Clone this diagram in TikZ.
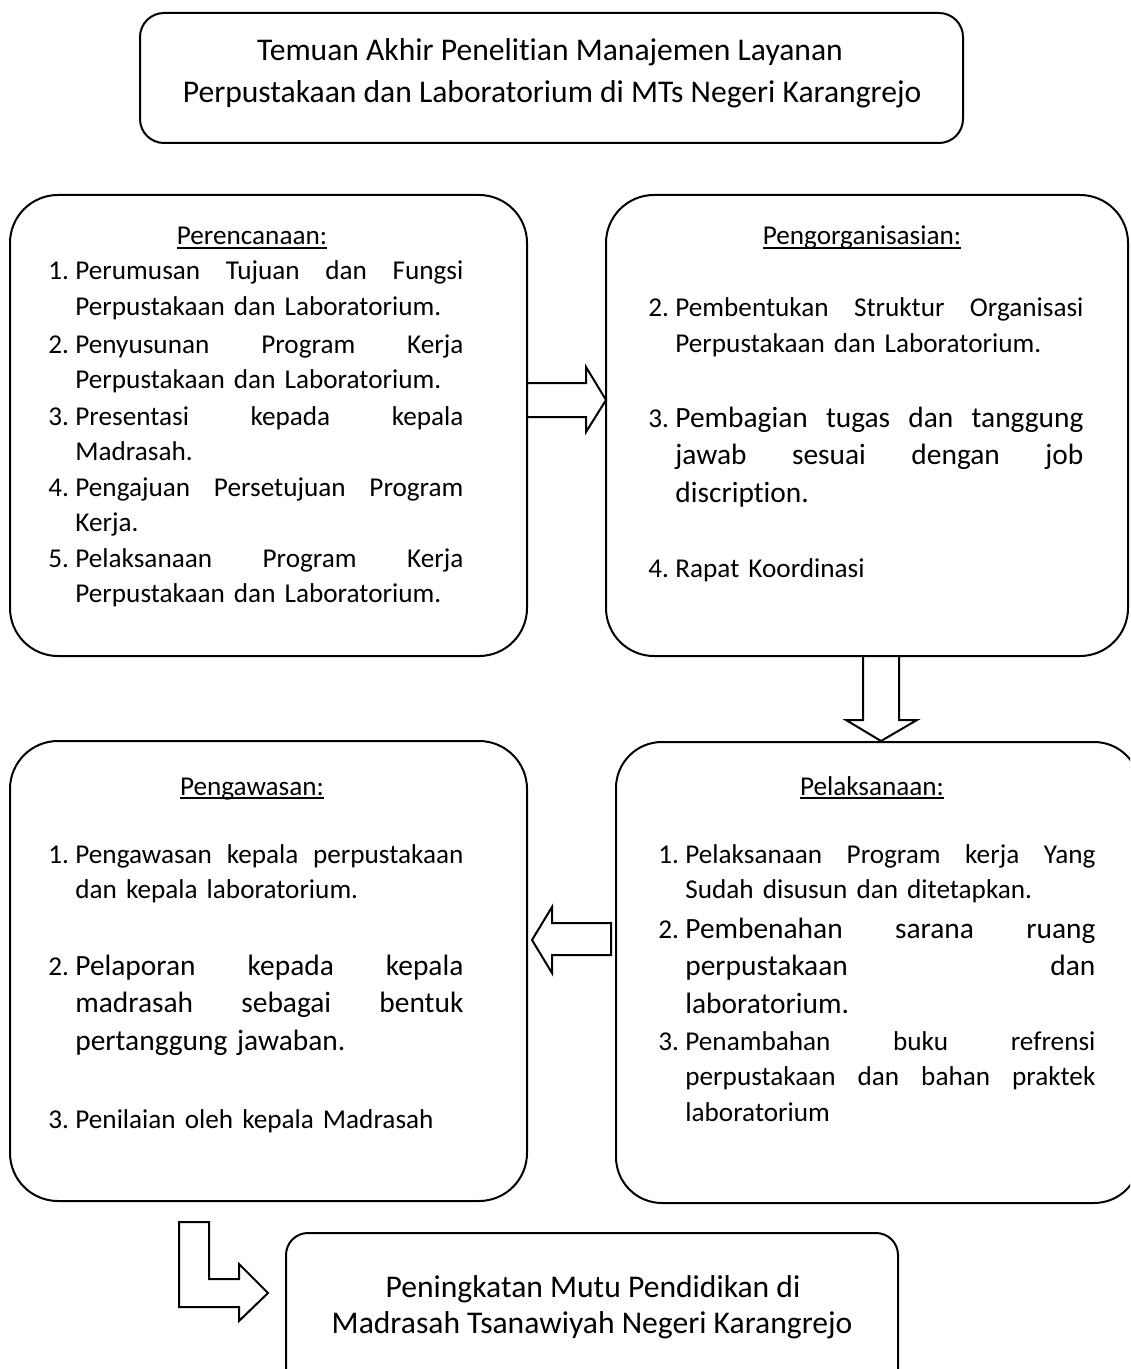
\documentclass[tikz,border=0pt]{standalone}
\usepackage{fontspec}
\setmainfont{Carlito}[Ligatures=NoCommon]
\newcommand\fsn{\fontsize{13.6}{17.9}\selectfont}
\newcommand\fsl{\fontsize{14.7}{18.8}\selectfont}
\newcommand\fst{\fontsize{15.8}{20}\selectfont}
\newcommand\jl[1]{\leavevmode\hbox to \linewidth{\spaceskip=0.226em plus 1fil\relax #1}}
\newcommand\itm[3]{\makebox[13.5pt][l]{#2}\parbox[t]{\dimexpr#1-13.5pt\relax}{#3}}
\newcommand\hdul[1]{\sbox0{#1}\rlap{\rule[-2pt]{\wd0}{0.8pt}}\usebox0}
\begin{document}
\begin{tikzpicture}[x=0.5pt,y=-0.5pt,
  box/.style={draw, line width=1pt, inner sep=0pt},
  blockarrow/.style={draw, line width=1pt, line join=miter},
  entry/.style={anchor=base west, inner sep=0pt, font=\fsn, text width=#1},
  head/.style={anchor=base, inner sep=0pt, font=\fsn},
  ttl/.style={anchor=base, inner sep=0pt, font=\fst}]
\useasboundingbox (0,0) rectangle (1130,1369);
\clip (0,0) rectangle (1130,1369);
\fill[white] (0,0) rectangle (1130,1369);

% boxes
\node[box, rounded corners=12pt, minimum width=411.5pt, minimum height=65pt] (title) at (551.5,78) {};
\node[box, rounded corners=24pt, minimum width=258.5pt, minimum height=230.5pt] (plan) at (268.5,425.5) {};
\node[box, rounded corners=24pt, minimum width=261pt, minimum height=230.5pt] (org) at (867,425.5) {};
\node[box, rounded corners=24pt, minimum width=258.5pt, minimum height=230pt] (sup) at (268.5,971) {};
\node[box, rounded corners=23pt, minimum width=262pt, minimum height=230.5pt] (act) at (878,972.5) {};
\node[box, rounded corners=11pt, minimum width=306pt, minimum height=83.5pt] (out) at (592,1316.5) {};

% block arrows
\draw[blockarrow] (527,383) -- (586,383) -- (586,367) -- (606,400) -- (586,432) -- (586,417) -- (527,417);
\draw[blockarrow] (863,656) -- (863,720) -- (846,720) -- (881,741) -- (917,720) -- (899,720) -- (899,656);
\draw[blockarrow] (611,923) -- (552,923) -- (552,907) -- (532,940) -- (552,973) -- (552,955) -- (611,955) -- cycle;
\draw[blockarrow] (179,1222) -- (209,1222) -- (209,1279) -- (239,1279) -- (239,1264) -- (268,1293) -- (239,1321) -- (239,1307) -- (179,1307) -- cycle;

% title
\node[ttl] (t1) at (550,61) {Temuan Akhir Penelitian Manajemen Layanan};
\node[ttl] (t2) at (552,103) {Perpustakaan dan Laboratorium di MTs Negeri Karangrejo};

% Perencanaan
\node[head] (ph) at (252,245) {\hdul{Perencanaan:}};
\node[entry=207.5pt] (p1) at (48,280) {\itm{207.5pt}{1.}{\jl{Perumusan Tujuan dan Fungsi}\\Perpustakaan dan Laboratorium.}};
\node[entry=207.5pt] (p2) at (48,353) {\itm{207.5pt}{2.}{\jl{Penyusunan Program Kerja}\\Perpustakaan dan Laboratorium.}};
\node[entry=207.5pt] (p3) at (48,425) {\itm{207.5pt}{3.}{\jl{Presentasi kepada kepala}\\Madrasah.}};
\node[entry=207.5pt] (p4) at (48,496) {\itm{207.5pt}{4.}{\jl{Pengajuan Persetujuan Program}\\Kerja.}};
\node[entry=207.5pt] (p5) at (48,567) {\itm{207.5pt}{5.}{\jl{Pelaksanaan Program Kerja}\\Perpustakaan dan Laboratorium.}};

% Pengorganisasian
\node[head] (oh) at (862,245) {\hdul{Pengorganisasian:}};
\node[entry=217.5pt] (o2i) at (648,317) {\itm{217.5pt}{2.}{\jl{Pembentukan Struktur Organisasi}\\Perpustakaan dan Laboratorium.}};
\node[entry=217.5pt, font=\fsl] (o3i) at (648,427) {\itm{217.5pt}{{\fsn 3.}}{\jl{Pembagian tugas dan tanggung}\\\jl{jawab sesuai dengan job}\\discription.}};
\node[entry=217.5pt] (o4i) at (648,577) {\itm{217.5pt}{4.}{Rapat Koordinasi}};

% Pengawasan
\node[head] (sh) at (252,795) {\hdul{Pengawasan:}};
\node[entry=207.5pt] (s1) at (48,863) {\itm{207.5pt}{1.}{\jl{Pengawasan kepala perpustakaan}\\dan kepala laboratorium.}};
\node[entry=207.5pt, font=\fsl] (s2) at (48,975) {\itm{207.5pt}{{\fsn 2.}}{\jl{Pelaporan kepada kepala}\\\jl{madrasah sebagai bentuk}\\pertanggung jawaban.}};
\node[entry=207.5pt] (s3) at (48,1128) {\itm{207.5pt}{3.}{Penilaian oleh kepala Madrasah}};

% Pelaksanaan
\node[head] (ah) at (872,795) {\hdul{Pelaksanaan:}};
\node[entry=218.5pt] (a1) at (658,863) {\itm{218.5pt}{1.}{\jl{Pelaksanaan Program kerja Yang}\\Sudah disusun dan ditetapkan.}};
\node[entry=218.5pt, font=\fsl] (a2) at (658,938) {\itm{218.5pt}{{\fsn 2.}}{\jl{Pembenahan sarana ruang}\\\jl{perpustakaan dan}\\laboratorium.}};
\node[entry=218.5pt] (a3) at (658,1050) {\itm{218.5pt}{3.}{\jl{Penambahan buku refrensi}\\\jl{perpustakaan dan bahan praktek}\\laboratorium}};

% output
\node[ttl] (u1) at (593,1297) {Peningkatan Mutu Pendidikan di};
\node[ttl] (u2) at (592,1333) {Madrasah Tsanawiyah Negeri Karangrejo};
\end{tikzpicture}
\end{document}
